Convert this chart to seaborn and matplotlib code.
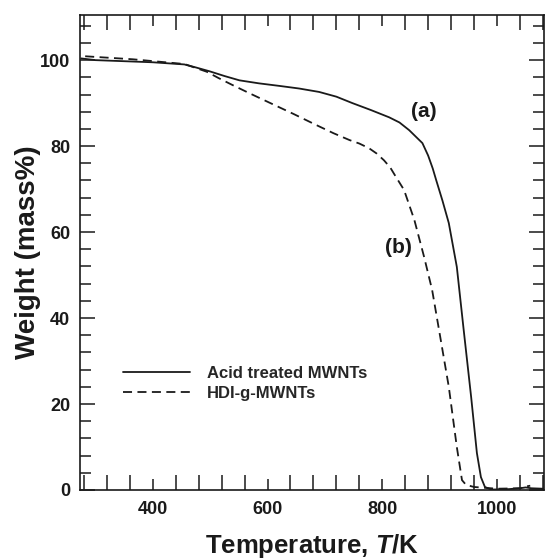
import numpy as np
import pandas as pd
import matplotlib
matplotlib.use("Agg")
import matplotlib.pyplot as plt
from matplotlib.ticker import MultipleLocator
import seaborn as sns

# TGA curves
temp_a = [275, 300, 400, 455, 475, 499, 525, 551, 585, 621, 655, 690, 720,
          748, 780, 812, 830, 847, 860, 870, 880, 888, 894, 905, 916, 930,
          942, 955, 965, 972, 979, 990, 1020, 1040, 1050, 1060, 1080]
weight_a = [100.4, 100.0, 99.5, 99.0, 98.3, 97.4, 96.3, 95.3, 94.6, 94.0, 93.4,
            92.6, 91.5, 90.0, 88.4, 86.7, 85.5, 83.7, 82.0, 80.7, 77.8, 74.8,
            72.1, 67.3, 62.1, 51.9, 37.2, 21.6, 8.6, 3.0, 0.7, 0.1, 0.2, 0.4,
            0.6, 0.4, 0.3]
temp_b = [282, 365, 455, 494, 515, 539, 570, 605, 645, 685, 715, 743, 760,
          777, 790, 803, 814, 824, 838, 856, 873, 887, 902, 916, 930, 939,
          946, 960, 1000, 1040, 1050, 1058]
weight_b = [100.9, 100.2, 99.1, 97.3, 95.8, 94.2, 92.2, 90.0, 87.5, 84.9, 83.0,
            81.4, 80.6, 79.5, 78.3, 76.7, 75.0, 72.8, 69.8, 62.8, 54.2, 46.5,
            34.9, 24.0, 10.0, 2.3, 1.2, 0.7, 0.3, 0.4, 0.8, 1.0]
series_names = ["Acid treated MWNTs", "HDI-g-MWNTs"]

df = pd.concat([
    pd.DataFrame({"T": temp_a, "W": weight_a, "sample": series_names[0]}),
    pd.DataFrame({"T": temp_b, "W": weight_b, "sample": series_names[1]}),
])

sns.set_style("ticks")
plt.rcParams["font.family"] = ["Liberation Sans", "DejaVu Sans"]
plt.rcParams["font.weight"] = "bold"
plt.rcParams["mathtext.fontset"] = "custom"
plt.rcParams["mathtext.bfit"] = "Liberation Sans:bold:italic"

fig = plt.figure(figsize=(5.47, 5.60), dpi=100)
ax = fig.add_axes([80 / 547, 70 / 560, 464 / 547, 475 / 560])

sns.lineplot(data=df, x="T", y="W", hue="sample", style="sample",
             palette=["#1a1a1a", "#1a1a1a"],
             dashes={series_names[0]: "", series_names[1]: (5, 3)},
             linewidth=1.3, sort=False, estimator=None, ax=ax)

ax.set_xlim(273, 1082)
ax.set_ylim(0, 110.5)

ax.xaxis.set_major_locator(MultipleLocator(200))
ax.xaxis.set_minor_locator(MultipleLocator(40))
ax.yaxis.set_major_locator(MultipleLocator(20))
ax.yaxis.set_minor_locator(MultipleLocator(4))

ax.tick_params(axis="both", which="both", direction="in", top=True, right=True,
               width=1.1, color="#1a1a1a", labelsize=13, labelcolor="#1a1a1a")
ax.tick_params(axis="x", which="major", length=8, pad=8)
ax.tick_params(axis="x", which="minor", length=11)
ax.tick_params(axis="y", which="major", length=11, pad=7)
ax.tick_params(axis="y", which="minor", length=8)
for lab in ax.get_xticklabels() + ax.get_yticklabels():
    lab.set_fontweight("bold")

for sp in ax.spines.values():
    sp.set_linewidth(1.2)
    sp.set_color("#1a1a1a")

ax.set_xlabel("Temperature, $\\mathbfit{T}$/K", fontsize=18.5, fontweight="bold",
              color="#1a1a1a", labelpad=10)
ax.set_ylabel("Weight (mass%)", fontsize=20, fontweight="bold",
              color="#1a1a1a")
ax.yaxis.set_label_coords(-0.083, 0.5)

ax.text(873, 88, "(a)", fontsize=15, fontweight="bold", ha="center", va="center",
        color="#1a1a1a")
ax.text(829, 56.3, "(b)", fontsize=15, fontweight="bold", ha="center", va="center",
        color="#1a1a1a")

leg = ax.legend(loc="upper left", bbox_to_anchor=(0.06, 0.292), frameon=False,
                handlelength=4.0, handletextpad=1.05, labelspacing=0.3,
                prop={"size": 12, "weight": "bold"})
for line in leg.get_lines():
    line.set_linewidth(1.3)

fig.savefig("out.png", dpi=100)
